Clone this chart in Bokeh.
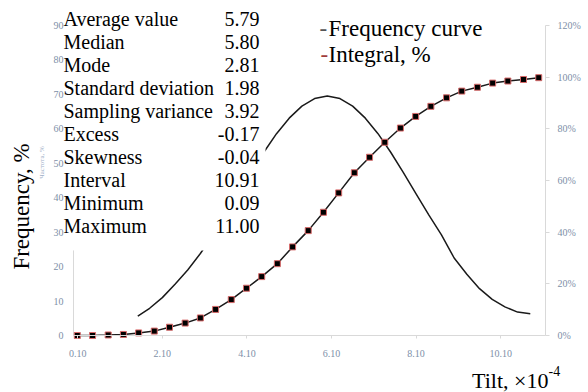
import math
from bokeh.plotting import figure
from bokeh.models import Range1d, LinearAxis, Label, FixedTicker
from bokeh.embed import file_html
from bokeh.resources import INLINE

# ---- data ----
integral_x = [0.09, 0.45, 0.82, 1.18, 1.54, 1.91, 2.27, 2.64, 3.00, 3.36, 3.73,
              4.09, 4.45, 4.82, 5.18, 5.55, 5.91, 6.27, 6.64, 7.00, 7.36, 7.73,
              8.09, 8.45, 8.82, 9.18, 9.55, 9.91, 10.27, 10.64, 11.00]
integral_pct = [0.0, 0.0, 0.2, 0.4, 1.0, 1.7, 3.2, 4.8, 6.8, 10.1, 13.9,
                18.3, 22.8, 27.8, 34.3, 40.6, 47.7, 55.2, 63.0, 69.0, 74.8, 80.3,
                84.8, 88.7, 92.0, 94.6, 96.1, 97.7, 98.5, 99.1, 99.8]

freq_x = [1.52, 1.8, 2.1, 2.4, 2.7, 3.0, 3.3, 3.6, 3.9, 4.2, 4.5, 4.8, 5.1, 5.4, 5.7,
          6.0, 6.3, 6.6, 6.9, 7.2, 7.5, 7.8, 8.1, 8.4, 8.7, 9.0, 9.3, 9.6, 9.9,
          10.2, 10.5, 10.8]
freq_y = [5.6, 7.9, 11.0, 14.9, 19.0, 23.8, 29.2, 35.0, 41.1, 47.3, 53.2, 58.6, 63.1, 66.6, 68.8,
          69.5, 68.8, 66.6, 63.1, 58.6, 53.2, 47.3, 41.1, 35.0, 29.2, 22.5, 17.8, 13.6, 10.5,
          8.3, 6.8, 6.3]

stat_names = ["Average value", "Median", "Mode", "Standard deviation", "Sampling variance",
              "Excess", "Skewness", "Interval", "Minimum", "Maximum"]
stat_values = ["5.79", "5.80", "2.81", "1.98", "3.92", "-0.17", "-0.04", "10.91", "0.09", "11.00"]

series_names = ["Frequency curve", "Integral, %"]

x_ticks = [0.1, 2.1, 4.1, 6.1, 8.1, 10.1]
x_tick_labels = ["0.10", "2.10", "4.10", "6.10", "8.10", "10.10"]
freq_ticks = [0, 10, 20, 30, 40, 50, 60, 70, 80, 90]
pct_ticks = [0, 20, 40, 60, 80, 100, 120]
pct_tick_labels = ["0%", "20%", "40%", "60%", "80%", "100%", "120%"]

SERIF = "Liberation Serif"
TICK_COLOR = "#7d8fa8"
AXIS_COLOR = "#d9d9d9"

W, H = 588, 392
# plot area (page pixels): left 73, right 545, top 25, bottom 335
X0, X1 = 0.0, 11.16
PXX = (545 - 73) / (X1 - X0)
PXY = (335 - 25) / 90.0
PXP = (335 - 25) / 120.0

p = figure(width=W, height=H, output_backend="svg", toolbar_location=None,
           x_axis_location=None, y_axis_location=None,
           x_range=Range1d(X0 - 73 / PXX, X1 + (W - 545) / PXX),
           y_range=Range1d(-(H - 335) / PXY, 90 + 25 / PXY),
           min_border=0, min_border_left=0, min_border_right=0,
           min_border_top=0, min_border_bottom=0)
p.extra_y_ranges = {"pct": Range1d(-(H - 335) / PXP, 120 + 25 / PXP)}
p.xgrid.visible = False
p.ygrid.visible = False
p.outline_line_color = None
p.background_fill_color = "white"


def style_axis(ax, standoff, tick_out):
    ax.axis_line_color = AXIS_COLOR
    ax.major_tick_line_color = AXIS_COLOR
    ax.major_tick_in = 0
    ax.major_tick_out = tick_out
    ax.minor_tick_line_color = None
    ax.major_label_standoff = standoff
    ax.major_label_text_font = SERIF
    ax.major_label_text_font_size = "10px"
    ax.major_label_text_color = TICK_COLOR


# bottom axis
xa = LinearAxis(ticker=FixedTicker(ticks=x_ticks),
                major_label_overrides=dict(zip(x_ticks, x_tick_labels)),
                fixed_location=0, bounds=(X0, X1))
style_axis(xa, 11, 3)
p.add_layout(xa, "below")

# left axis (its line is mostly hidden by the statistics box)
ya = LinearAxis(ticker=FixedTicker(ticks=freq_ticks), fixed_location=X0, bounds=(0, 90))
style_axis(ya, 10, 0)
ya.axis_line_color = None
ya.major_tick_line_color = None
p.add_layout(ya, "left")

# right axis
ra = LinearAxis(y_range_name="pct", ticker=FixedTicker(ticks=pct_ticks),
                major_label_overrides=dict(zip(pct_ticks, pct_tick_labels)),
                fixed_location=X1, bounds=(0, 120))
style_axis(ra, 8, 4)
p.add_layout(ra, "right")

# frequency curve
p.line(freq_x, freq_y, line_color="#1a1a1a", line_width=1.5)

# white statistics box masking the upper left part
p.quad(left=X0 - 11 / PXX, right=4.54, bottom=24.7, top=90 + 25 / PXY,
       fill_color="white", line_color=None)
# visible part of the left axis line (below the statistics box)
p.segment(x0=X0, y0=0, x1=X0, y1=24.7, line_color=AXIS_COLOR, line_width=1)

# integral curve
p.line(integral_x, integral_pct, y_range_name="pct", line_color="#1a1a1a", line_width=1.5)
p.scatter(integral_x, integral_pct, y_range_name="pct", marker="square", size=6,
          fill_color="black", line_color="#d86a6a", line_width=1)


# ---- texts (screen units; frame == whole canvas) ----
BASE_FIX = 6  # alphabetic baseline renders ~6px low


def lab(text, X, Y, size, align="left", baseline="alphabetic", color="black", angle=0.0):
    yy = Y - BASE_FIX if baseline == "alphabetic" else Y
    p.add_layout(Label(x=X, y=H - yy, x_units="screen", y_units="screen", text=text,
                       text_font=SERIF, text_font_size=size, text_align=align,
                       text_baseline=baseline, text_color=color, angle=angle))


for i, (n, v) in enumerate(zip(stat_names, stat_values)):
    yb = 24.5 + 23 * i
    lab(n, 63, yb, "20px")
    lab(v, 259, yb, "20px", align="right")

# legend
lab("-", 319, 34, "23px", color="#555555")
lab(series_names[0], 328, 34, "23px")
lab("-", 320, 60, "23px", color="#a03c3c")
lab(series_names[1], 328, 60, "23px")

# axis titles
lab("Frequency, %", 21, 206, "23px", align="center", baseline="middle", angle=math.pi / 2)
lab("Частота, %", 41, 162, "7px", align="center", baseline="middle", angle=math.pi / 2,
    color="#9fb0c8")
lab("Tilt, \u00d710", 548, 386, "22px", align="right")
lab("-4", 548, 376, "14px")

open("out.html", "w").write(file_html(p, INLINE))
